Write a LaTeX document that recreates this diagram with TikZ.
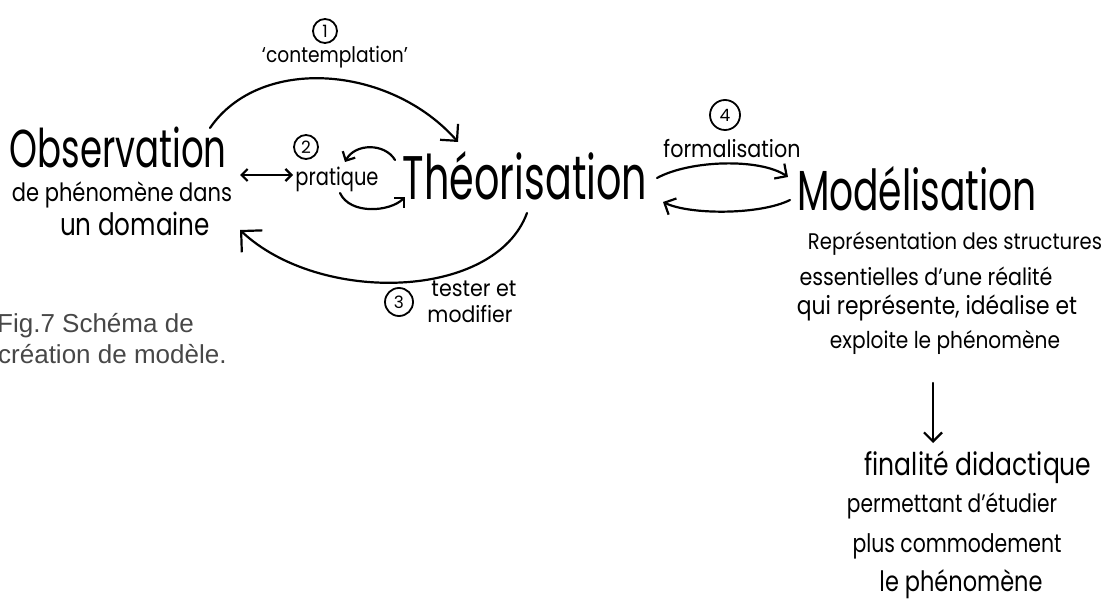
\documentclass[tikz,border=0pt]{standalone}
\usepackage{fontspec}
\setmainfont{Poppins}
\newfontfamily\capfont{Liberation Sans}
\usetikzlibrary{arrows.meta}
% text fitted to a given width, then stretched upward like the tall handwriting
\newcommand\hw[3][1.25]{\scalebox{1}[#1]{\resizebox{#2}{!}{#3}}}

\begin{document}
\begin{tikzpicture}[x=1pt,y=-1pt,
  ink/.style={line width=2.2pt, line cap=round, line join=round},
  bigtip/.style={-{Straight Barb[length=15pt,width=30pt]}},
  midtip/.style={-{Straight Barb[length=12pt,width=24pt]}},
  smalltip/.style={-{Straight Barb[length=9pt,width=18pt]}},
  tinytip/.style={-{Straight Barb[length=7pt,width=14pt]}},
  num/.style={circle, draw, line width=1.8pt, inner sep=0pt, font=\fontsize{17}{17}\selectfont},
  lbl/.style={inner sep=0pt, anchor=center},
  caption/.style={inner sep=0pt, anchor=base west, text=black!72,
    font=\capfont\fontsize{26}{30}\selectfont}
]
\useasboundingbox (0,0) rectangle (1108,601);

% --- texts ---
\node[num, minimum size=24pt] (n1) at (325,31) {1};
\node[lbl] (contemp) at (335,57) {\hw[1.15]{146pt}{‘contemplation’}};

\node[lbl] (obs) at (118,147) {\hw[1.5]{217pt}{Observation}};
\node[lbl] (obs1) at (122,195) {\hw[1.2]{220pt}{de phénomène dans}};
\node[lbl] (obs2) at (135,224) {\hw{150pt}{un domaine}};

\node[num, minimum size=24pt] (n2) at (306,147) {2};
\node[lbl] (prat) at (337,179) {\hw{83pt}{pratique}};

\node[lbl] (theo) at (525,176) {\hw[1.55]{244pt}{Théorisation}};

\node[num, minimum size=30pt] (n4) at (725,115) {4};
\node[lbl] (forma) at (732,149) {\hw[1.15]{137pt}{formalisation}};

\node[lbl] (mode) at (917,189) {\hw[1.5]{240pt}{Modélisation}};
\node[lbl] (m1) at (955,244) {\hw[1.15]{294pt}{Représentation des structures}};
\node[lbl] (m2) at (926,276) {\hw[1.15]{253pt}{essentielles d'une réalité}};
\node[lbl] (m3) at (937,308) {\hw[1.15]{280pt}{qui représente, idéalise et}};
\node[lbl] (m4) at (945,342) {\hw[1.15]{230pt}{exploite le phénomène}};

\node[lbl] (f1) at (978,467) {\hw{227pt}{finalité didactique}};
\node[lbl] (f2) at (952,506) {\hw{210pt}{permettant d'étudier}};
\node[lbl] (f3) at (957,546) {\hw{209pt}{plus commodement}};
\node[lbl] (f4) at (961,584) {\hw{163pt}{le phénomène}};

\node[num, minimum size=28pt] (n3) at (399,302) {3};
\node[lbl] (t1) at (474,289) {\hw[1.1]{85pt}{tester et}};
\node[lbl] (t2) at (470,314) {\hw[1.1]{85pt}{modifier}};

\node[caption] (cap1) at (-3,333) {Fig.7 Schéma de};
\node[caption] (cap2) at (-2,363) {création de modèle.};

% --- connector ends ---
\coordinate (obsTop) at (210,128);
\coordinate (theoTop) at (458,142);
\coordinate (theoLow) at (527,213);
\coordinate (obsLow) at (240,230);
\coordinate (obsR) at (240,175);
\coordinate (pratL) at (293,175);
\coordinate (theoUpL) at (395,160);
\coordinate (pratUp) at (345,162);
\coordinate (pratLow) at (340,193);
\coordinate (theoLowL) at (405,197);
\coordinate (theoR1) at (657,178);
\coordinate (modeL1) at (788,177);
\coordinate (modeL2) at (790,200);
\coordinate (theoR2) at (663,202);
\coordinate (modeDown) at (933,383);
\coordinate (finTop) at (933,443);

% --- connectors ---
\draw[ink, midtip] (obsTop) .. controls (260,55) and (390,65) .. (theoTop);
\draw[ink, bigtip] (theoLow) .. controls (495,300) and (320,305) .. (obsLow);
\draw[ink, {Straight Barb[length=6pt,width=12pt]}-{Straight Barb[length=6pt,width=12pt]}] (obsR) -- (pratL);
\draw[ink, tinytip] (theoUpL) .. controls (385,143) and (355,143) .. (pratUp);
\draw[ink, tinytip] (pratLow) .. controls (350,215) and (390,212) .. (theoLowL);
\draw[ink, smalltip] (theoR1) .. controls (690,160) and (760,158) .. (modeL1);
\draw[ink, smalltip] (modeL2) .. controls (760,215) and (690,215) .. (theoR2);
\draw[ink, smalltip] (modeDown) -- (finTop);
\end{tikzpicture}
\end{document}
